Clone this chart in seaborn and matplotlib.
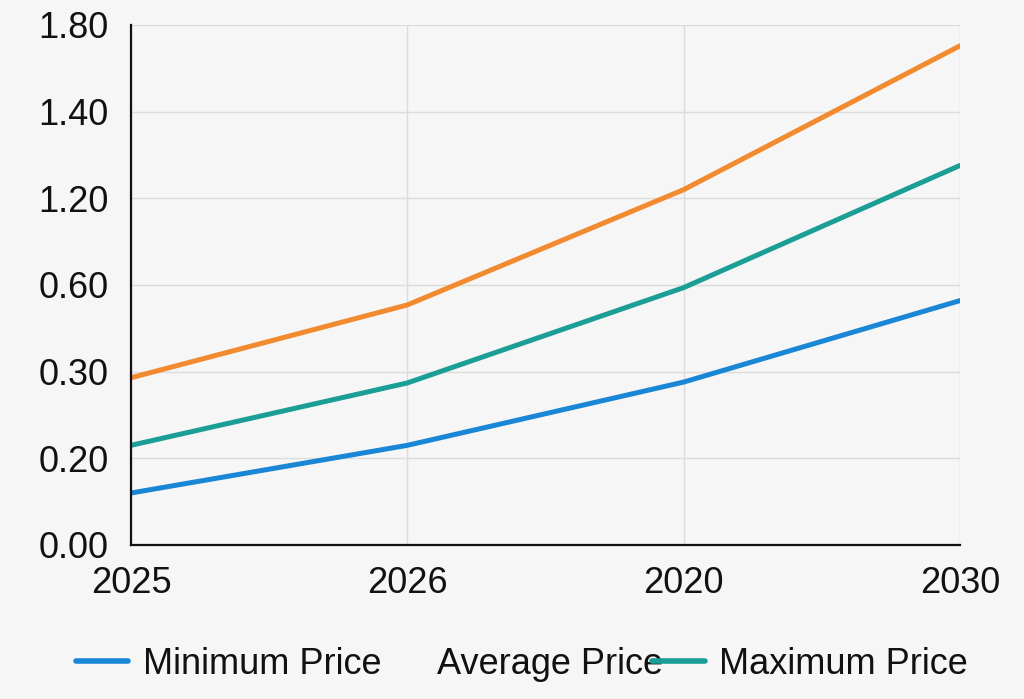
import matplotlib
matplotlib.use("Agg")
import matplotlib.pyplot as plt
import seaborn as sns
import pandas as pd
import numpy as np

# ---- data (values expressed on the chart's evenly spaced tick scale) ----
x_labels = ["2025", "2026", "2020", "2030"]
y_tick_labels = ["0.00", "0.20", "0.30", "0.60", "1.20", "1.40", "1.80"]
series_names = ["Minimum Price", "Average Price", "Maximum Price"]
minimum_price = [0.60, 1.15, 1.88, 2.82]
average_price = [1.93, 2.77, 4.10, 5.76]
maximum_price = [1.15, 1.87, 2.97, 4.38]
colors = {"Minimum Price": "#1a86d6", "Average Price": "#f28a30", "Maximum Price": "#1a9e95"}

rows = []
for name, vals in zip(series_names, [minimum_price, average_price, maximum_price]):
    for i, v in enumerate(vals):
        rows.append({"x": i, "value": v, "series": name})
df = pd.DataFrame(rows)

sns.set_theme(style="white")
plt.rcParams["font.family"] = ["Liberation Sans", "DejaVu Sans"]

bg = "#f6f6f6"
fig = plt.figure(figsize=(10.24, 6.99), dpi=100, facecolor=bg)
ax = fig.add_axes([131/1024, 1-545/699, (960-131)/1024, (545-25)/699])
ax.set_facecolor(bg)

sns.lineplot(data=df, x="x", y="value", hue="series", hue_order=series_names,
             palette=colors, linewidth=3.6, legend=False, ax=ax,
             solid_capstyle="round")

ax.set_xlim(0, 3)
ax.set_ylim(0, 6)
ax.set_xticks(range(len(x_labels)))
ax.set_xticklabels(x_labels)
ax.set_yticks(range(len(y_tick_labels)))
ax.set_yticklabels(y_tick_labels)
ax.set_xlabel("")
ax.set_ylabel("")

ax.grid(True, color="#dcdcdc", linewidth=1.0)
ax.set_axisbelow(True)
for s in ["top", "right"]:
    ax.spines[s].set_visible(False)
for s in ["left", "bottom"]:
    ax.spines[s].set_color("#111111")
    ax.spines[s].set_linewidth(1.6)

ax.tick_params(axis="both", length=0, colors="#111111", labelsize=26)
ax.tick_params(axis="y", pad=16)
ax.tick_params(axis="x", pad=15)

handles = []
for name in series_names:
    h = matplotlib.lines.Line2D([], [], color=colors[name], linewidth=4.0,
                                solid_capstyle="round")
    if name == "Average Price":
        h.set_alpha(0.0)
    handles.append(h)

fig.legend(handles, series_names, loc="center", bbox_to_anchor=(522/1024, 1-664/699),
           ncol=3, frameon=False, fontsize=26, handlelength=1.45,
           handletextpad=0.4, columnspacing=-0.3, labelcolor="#111111")

fig.savefig("out.png", dpi=100, facecolor=bg)
